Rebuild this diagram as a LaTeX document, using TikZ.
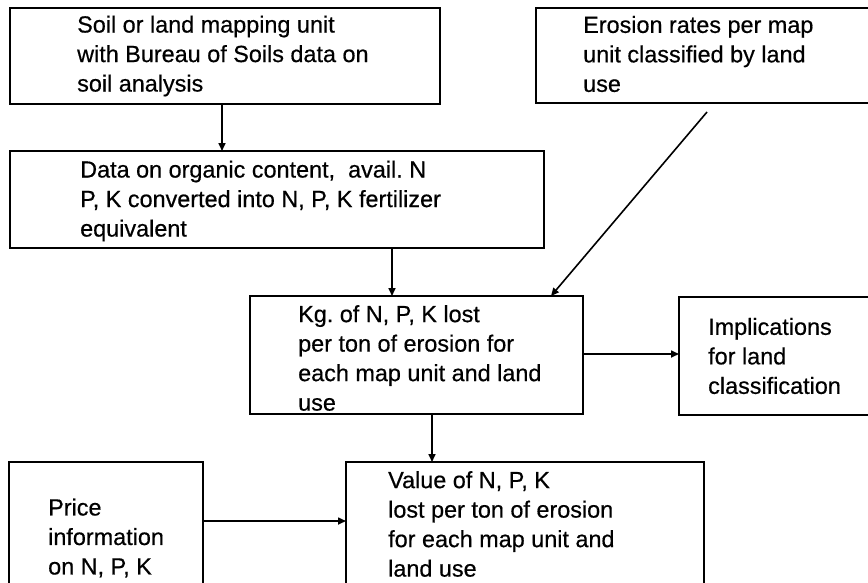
\documentclass[tikz,border=0pt]{standalone}
\usepackage{fontspec}
\setmainfont{Liberation Sans}[FakeBold=0.5]
\usetikzlibrary{arrows.meta}
\frenchspacing
\begin{document}
\begin{tikzpicture}[x=1pt,y=-1pt,
  box/.style={draw=black, line width=1.8pt, rectangle, inner sep=0pt, outer sep=0pt},
  txt/.style={anchor=west, align=left, inner sep=0pt, font=\fontsize{23.4}{29.5}\selectfont},
  arr/.style={draw=black, line width=1.6pt, -{Triangle[length=8pt,width=7pt]}}]
\useasboundingbox (0,0) rectangle (868,582);
\clip (0,0) rectangle (868,582);
% boxes
\node[box, minimum width=430pt, minimum height=96pt]  (b1) at (225,56) {};
\node[box, minimum width=336pt, minimum height=95pt]  (b2) at (704,55.5) {};
\node[box, minimum width=534pt, minimum height=97pt]  (b3) at (277,199.5) {};
\node[box, minimum width=333pt, minimum height=118pt] (b4) at (416.5,355) {};
\node[box, minimum width=193pt, minimum height=118pt] (b5) at (775.5,356) {};
\node[box, minimum width=194pt, minimum height=128pt] (b6) at (106,526) {};
\node[box, minimum width=358pt, minimum height=128pt] (b7) at (525,526) {};
% texts
\node[txt] (t1) at (77,56) {Soil or land mapping unit\\with Bureau of Soils data on\\soil analysis};
\node[txt] (t2) at (583,54) {Erosion rates per map\\unit classified by land\\use};
\node[txt] (t3) at (80,201) {Data on organic content,\ \ avail.\ N\\P, K converted into N, P, K fertilizer\\equivalent};
\node[txt] (t4) at (298,358) {Kg.\ of N, P, K lost\\per ton of erosion for\\each map unit and land\\use};
\node[txt] (t5) at (708,356) {Implications\\for land\\classification};
\node[txt] (t6) at (48,538) {Price\\information\\on N, P, K};
\node[txt] (t7) at (388,524) {Value of N, P, K\\lost per ton of erosion\\for each map unit and\\land use};
% connectors
\draw[arr] ([xshift=-3pt]b1.south) -- ([xshift=-3pt]b1.south |- b3.north);
\draw[arr] ([xshift=115pt]b3.south) -- ([xshift=115pt]b3.south |- b4.north);
\draw[arr] ([xshift=3pt,yshift=-9pt]b2.south) -- ([xshift=134.5pt]b4.north);
\draw[arr] ([yshift=1pt]b4.east) -- ([yshift=1pt]b4.east -| b5.west);
\draw[arr] ([xshift=15.5pt]b4.south) -- ([xshift=15.5pt]b4.south |- b7.north);
\draw[arr] ([yshift=5pt]b6.east) -- ([yshift=5pt]b6.east -| b7.west);
\end{tikzpicture}
\end{document}
